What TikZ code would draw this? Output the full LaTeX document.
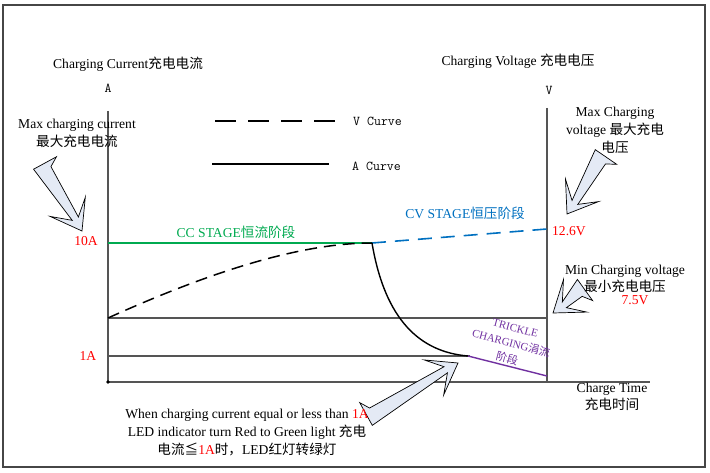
\documentclass[tikz,border=0pt]{standalone}
\usepackage{fontspec}
\setmainfont{Liberation Serif}
\newfontfamily\cjkfont{Noto Sans CJK SC}
\newcommand\zh[1]{{\cjkfont #1}}
\newcommand\mainsz{\fontsize{13.6}{18}\selectfont}
\newcommand\smallsz{\fontsize{11}{16}\selectfont}
\newcommand\monosz{\fontsize{13.5}{16}\selectfont\ttfamily}
\usetikzlibrary{calc}
\definecolor{ccgreen}{RGB}{0,170,80}
\definecolor{cvblue}{RGB}{0,112,192}
\definecolor{tpurple}{RGB}{112,48,160}
\definecolor{axisgray}{RGB}{85,85,85}
\definecolor{framegray}{RGB}{70,70,70}
\definecolor{calfill}{RGB}{228,234,245}
\definecolor{labred}{RGB}{255,0,0}
\newcommand\calloutArrow[4]{%
  \pgfmathsetmacro\cL{veclen(#3-#1,#4-#2)}%
  \pgfmathsetmacro\cA{atan2(#4-#2,#3-#1)}%
  \begin{scope}[shift={(#1,#2)},rotate={0-(\cA)}]
    \draw[calloutstyle] (0,13) -- (0,-13) -- (6,-3.5) -- (\cL-14,-3.5) -- (\cL-28,-19) -- (\cL,0) -- (\cL-28,21) -- (\cL-14,3.5) -- cycle;
  \end{scope}}
\begin{document}
\begin{tikzpicture}[x=1pt,y=-1pt,
  every node/.style={inner sep=0pt, font=\mainsz},
  axis/.style={axisgray, line width=1.1pt},
  guide/.style={axisgray, line width=1.1pt},
  mono/.style={font=\monosz},
  calloutstyle/.style={draw=black, line width=0.7pt, fill=calfill, line join=miter},
  redlbl/.style={text=labred}]
\useasboundingbox (0,0) rectangle (710,473);
\draw[framegray, line width=1.6pt] (3,5) rectangle (705,467);

% axes
\coordinate (O) at (108,382);
\coordinate (ytop) at (108,111);
\coordinate (xend) at (650,382);
\coordinate (rbot) at (547,382);
\coordinate (rtop) at (547,108);
\draw[axis] (ytop) -- (O) -- (xend);
\draw[axis] (rtop) -- (rbot);
\fill (O) circle (1.8pt);

% guide lines
\coordinate (g75a) at (108,318);
\coordinate (g75b) at (547,318);
\coordinate (g1a) at (108,356);
\coordinate (g1b) at (470,356);
\draw[guide] (g75a) -- (g75b);
\draw[guide] (g1a) -- (g1b);

% curves
\coordinate (cc0) at (108,243);
\coordinate (knee) at (372,243);
\coordinate (cvEnd) at (547,229);
\coordinate (trick0) at (468,356);
\coordinate (trick1) at (547,376);
\draw[ccgreen, line width=2.6pt] (cc0) -- (knee);
\draw[cvblue, line width=1.6pt, dash pattern=on 14pt off 9pt] (knee) -- (cvEnd);
\draw[black, line width=1.5pt, dash pattern=on 12pt off 7pt] (g75a) .. controls (210,272) and (300,243) .. (knee);
\draw[black, line width=1.4pt] (knee) .. controls (385,320) and (420,352) .. (trick0);
\draw[tpurple, line width=1.4pt] (trick0) -- (trick1);

% legend
\coordinate (lv0) at (215,121);
\coordinate (lv1) at (335,121);
\coordinate (la0) at (212,164);
\coordinate (la1) at (329,164);
\draw[line width=2.2pt, dash pattern=on 21pt off 12pt] (lv0) -- (lv1);
\draw[line width=2pt] (la0) -- (la1);
\node[mono, anchor=west] (vcurve) at (353,121) {V Curve};
\node[mono, anchor=west] (acurve) at (352,166) {A Curve};

% callout arrows
\calloutArrow{45}{163}{82}{231}
\calloutArrow{606}{157}{567}{214}
\calloutArrow{585}{290}{553}{313}
\calloutArrow{366}{414}{458}{363}

% titles and units
\node (curtitle) at (128,64) {Charging Current\zh{充电电流}};
\node (volttitle) at (518,61) {Charging Voltage \zh{充电电压}};
\node[mono] (aunit) at (108,88) {A};
\node[mono] (vunit) at (549,90) {V};

% value labels
\node[redlbl] (l10a) at (86,241) {10A};
\node[redlbl] (l1a) at (88,356) {1A};
\node[redlbl] (l126) at (569,231) {12.6V};
\node[redlbl] (l75) at (635,300) {7.5V};

% stage labels
\node[text=ccgreen] (ccstage) at (236,232) {CC STAGE\zh{恒流阶段}};
\node[text=cvblue] (cvstage) at (465,213) {CV STAGE\zh{恒压阶段}};
\node[text=tpurple, font=\smallsz, align=center, rotate=-15] (trickle) at (511,344) {TRICKLE\\CHARGING\zh{涓流}\\\zh{阶段}};

% annotations
\node[align=center] (maxcur) at (77,133) {Max charging current\\\zh{最大充电电流}};
\node[align=center] (maxvolt) at (615,130) {Max Charging\\voltage \zh{最大充电}\\\zh{电压}};
\node[align=center, font=\fontsize{13.6}{16.5}\selectfont] (minvolt) at (625,279) {Min Charging voltage\\\zh{最小充电电压}};
\node[align=center, font=\fontsize{13.6}{17}\selectfont] (ctime) at (612,397) {Charge Time\\\zh{充电时间}};
\node[align=center] (note) at (247,433) {When charging current equal or less than \textcolor{labred}{1A}\\LED indicator turn Red to Green light \zh{充电}\\\zh{电流≦}\textcolor{labred}{1A}\zh{时，}LED\zh{红灯转绿灯}};
\end{tikzpicture}
\end{document}
